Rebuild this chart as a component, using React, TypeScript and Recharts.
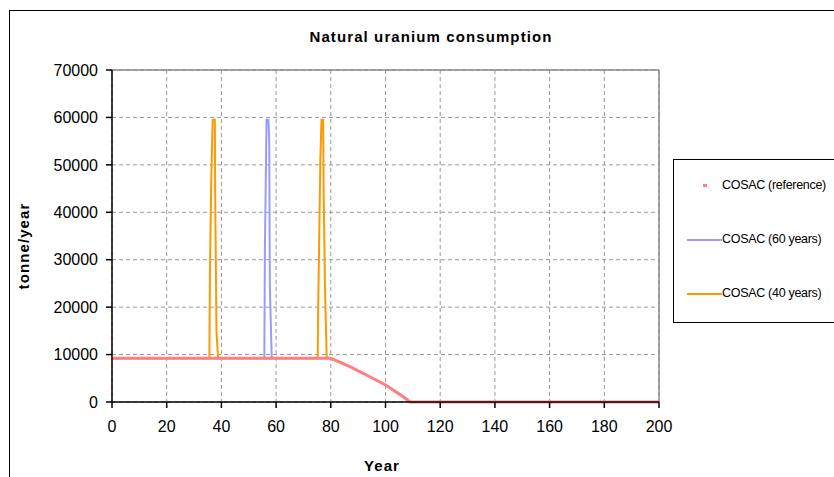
import React from 'react';
import { LineChart, Line, XAxis, YAxis, CartesianGrid, ReferenceLine, Legend, Label } from 'recharts';

const chartTitle = 'Natural uranium consumption';
const xTitle = 'Year';
const yTitle = 'tonne/year';

const xTicks = [0, 20, 40, 60, 80, 100, 120, 140, 160, 180, 200];
const yTicks = [0, 10000, 20000, 30000, 40000, 50000, 60000, 70000];

const seriesNames = ['COSAC (reference)', 'COSAC (60 years)', 'COSAC (40 years)'];
const seriesColors = ['#FF8080', '#9999FF', '#FF9900'];

const refYears = [0, 80, 87, 93, 100, 106, 109, 200];
const refValues = [9200, 9200, 7450, 5700, 3600, 1300, 0, 0];

const sixtyYears = [0, 55.7, 55.9, 56.5, 57.2, 57.5, 57.7, 58.4, 80, 87, 93, 100, 106, 109, 200];
const sixtyValues = [9200, 9200, 32000, 59500, 59500, 55000, 24700, 9200, 9200, 7450, 5700, 3600, 1300, 0, 0];

const fortyYears = [0, 35.6, 35.8, 36.3, 36.8, 37.6, 37.7, 38.2, 38.8, 75.2, 75.4, 76.2, 76.6, 77.2, 77.4, 77.9, 78.5, 80, 87, 93, 100, 106, 109, 200];
const fortyValues = [9200, 9200, 27000, 47000, 59500, 59500, 45500, 14800, 9200, 9200, 20400, 51700, 59500, 59500, 43600, 23300, 9200, 9200, 7450, 5700, 3600, 1300, 0, 0];

const toPoints = (xs: number[], ys: number[]) => xs.map((x, i) => ({ x, y: ys[i] }));

const refData = toPoints(refYears, refValues);
const sixtyData = toPoints(sixtyYears, sixtyValues);
const fortyData = toPoints(fortyYears, fortyValues);

const FONT = 'Arial, "Liberation Sans", sans-serif';

const LegendBox = () => (
  <div
    style={{
      position: 'relative',
      width: 200,
      height: 164,
      border: '1px solid #000',
      boxSizing: 'border-box',
      fontFamily: FONT,
      fontSize: 12.5,
      color: '#000',
      background: '#fff',
    }}
  >
    {seriesNames.map((name, i) => {
      const cy = [26, 80, 134][i];
      return (
        <div key={name} style={{ position: 'absolute', left: 0, top: cy - 9, height: 18, width: 200, whiteSpace: 'nowrap' }}>
          {i === 0 ? (
            <div style={{ position: 'absolute', left: 29, top: 7, width: 4, height: 3, background: seriesColors[i] }} />
          ) : (
            <div style={{ position: 'absolute', left: 13, top: 8, width: 35, height: 2, background: seriesColors[i] }} />
          )}
          <span style={{ position: 'absolute', left: 48, top: 1, letterSpacing: -0.3 }}>{name}</span>
        </div>
      );
    })}
  </div>
);

const labelStyle = { fill: '#000', fontSize: 15, fontWeight: 'bold' as const, fontFamily: FONT, letterSpacing: 1.1 };

const YTitle = () => (
  <text
    x={23}
    y={246}
    transform="rotate(-90 23 246)"
    textAnchor="middle"
    dominantBaseline="central"
    style={labelStyle}
  >
    {yTitle}
  </text>
);

const XTitle = () => (
  <text x={382} y={471} textAnchor="middle" style={labelStyle}>
    {xTitle}
  </text>
);

export default function App() {
  return (
    <div style={{ position: 'absolute', left: 0, top: 0, width: 834, height: 477, overflow: 'hidden', background: '#fff' }}>
      <div
        style={{
          position: 'absolute',
          left: 9,
          top: 10,
          width: 900,
          height: 600,
          border: '1px solid #000',
        }}
      />
      <div
        style={{
          position: 'absolute',
          left: 0,
          top: 28,
          width: 862,
          textAlign: 'center',
          fontFamily: FONT,
          fontWeight: 'bold',
          fontSize: 15,
          letterSpacing: 1.1,
          color: '#000',
        }}
      >
        {chartTitle}
      </div>
      <div style={{ position: 'absolute', left: 0, top: 0 }}>
        <LineChart width={834} height={477} margin={{ top: 70, right: 175, bottom: 0, left: 0 }}>
          <CartesianGrid stroke="#999" strokeDasharray="4 3" />
          <XAxis
            type="number"
            dataKey="x"
            domain={[0, 200]}
            ticks={xTicks}
            interval={0}
            allowDataOverflow
            height={75}
            axisLine={{ stroke: '#000', strokeWidth: 1.5 }}
            tickLine={{ stroke: '#000', strokeWidth: 1.5 }}
            tickSize={6}
            tickMargin={13}
            tick={{ fill: '#000', fontSize: 16, fontFamily: FONT }}
          >
            <Label value={xTitle} content={() => <XTitle />} />
          </XAxis>
          <YAxis
            type="number"
            dataKey="y"
            domain={[0, 70000]}
            ticks={yTicks}
            interval={0}
            width={112}
            axisLine={{ stroke: '#000', strokeWidth: 1.5 }}
            tickLine={{ stroke: '#000', strokeWidth: 1.5 }}
            tickSize={6}
            tickMargin={8}
            tick={{ fill: '#000', fontSize: 16, fontFamily: FONT }}
          >
            <Label value={yTitle} content={() => <YTitle />} />
          </YAxis>
          <ReferenceLine y={70000} stroke="#888" strokeWidth={1.5} />
          <ReferenceLine x={200} stroke="#888" strokeWidth={1.5} />
          <Legend
            layout="horizontal"
            verticalAlign="middle"
            align="center"
            wrapperStyle={{ position: 'absolute', left: 673, top: 159, width: 200, height: 164 }}
            content={() => <LegendBox />}
          />
          <Line data={sixtyData} dataKey="y" name={seriesNames[1]} stroke={seriesColors[1]} strokeWidth={2} dot={false} isAnimationActive={false} type="linear" />
          <Line data={fortyData} dataKey="y" name={seriesNames[2]} stroke={seriesColors[2]} strokeWidth={2} dot={false} isAnimationActive={false} type="linear" />
          <Line data={refData} dataKey="y" name={seriesNames[0]} stroke={seriesColors[0]} strokeWidth={3} dot={false} isAnimationActive={false} type="linear" />
        </LineChart>
      </div>
    </div>
  );
}
